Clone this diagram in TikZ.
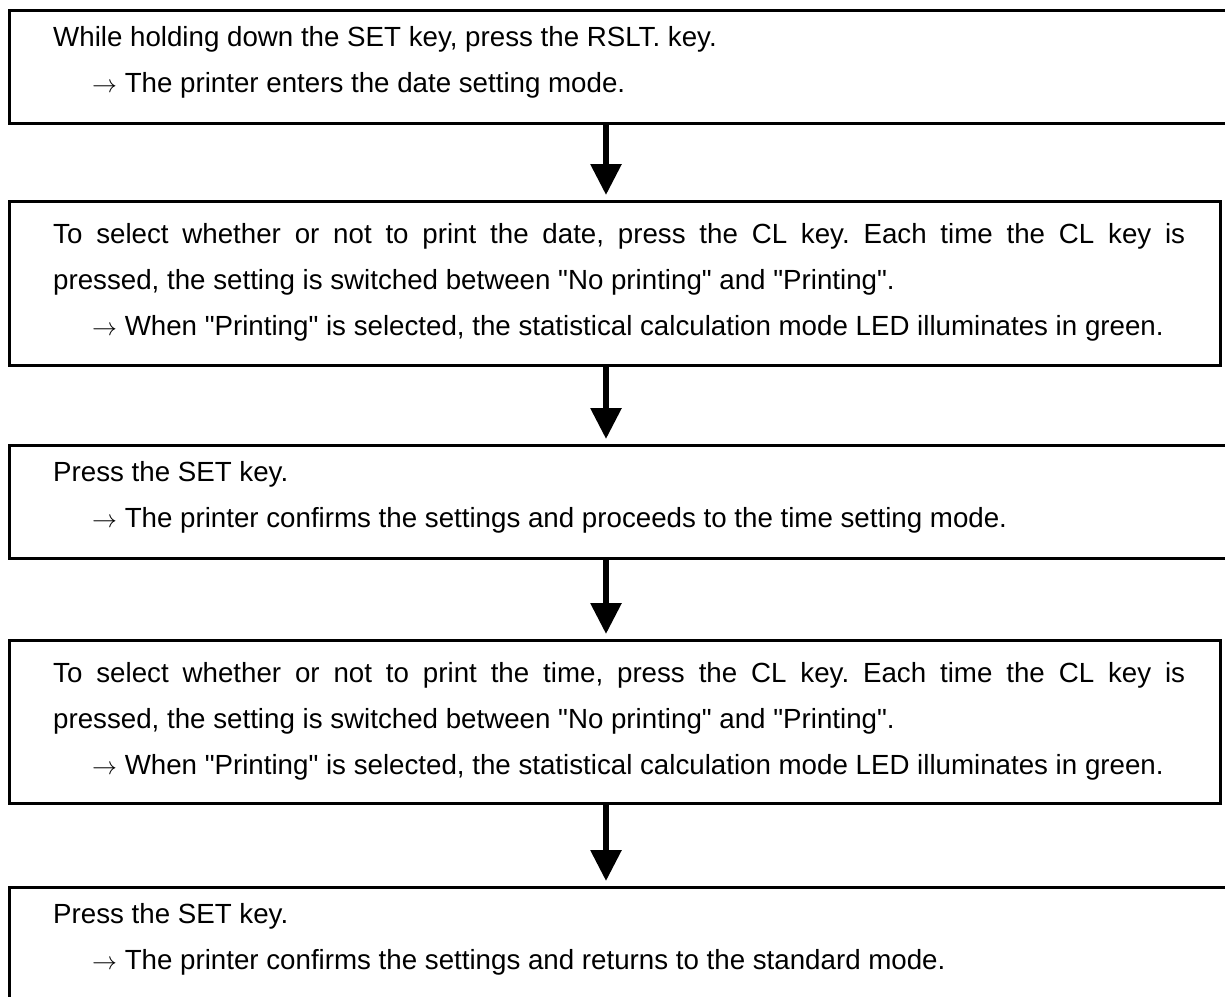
\documentclass[tikz,border=0pt]{standalone}
\usepackage{fontspec}
\setmainfont{Liberation Sans}[Ligatures=TeXOff]
\usetikzlibrary{arrows.meta}
\begin{document}
\frenchspacing
\begin{tikzpicture}[x=1pt,y=-1pt,
  box/.style={draw=black, line width=3pt, rectangle, inner sep=0pt, outer sep=0pt, anchor=north west},
  txt/.style={anchor=base west, inner sep=0pt, font=\fontsize{27.7pt}{46pt}\selectfont},
  flow/.style={line width=6pt, -{Triangle[width=30pt,length=31pt]}, shorten >=6pt}]
\clip (0,0) rectangle (1225,996);
\useasboundingbox (0,0) rectangle (1225,996);

% step boxes (some run past the right edge of the page)
\node[box, minimum width=1241pt, minimum height=113pt] (b1) at (9,10) {};
\node[box, minimum width=1211pt, minimum height=164pt] (b2) at (9,201) {};
\node[box, minimum width=1241pt, minimum height=113pt] (b3) at (9,445) {};
\node[box, minimum width=1211pt, minimum height=163pt] (b4) at (9,640) {};
\node[box, minimum width=1241pt, minimum height=113pt] (b5) at (9,887) {};

% step texts
\node[txt] (t1a) at (53,46) {While holding down the SET key, press the RSLT. key.};
\node[txt] (t1b) at (92,92) {$\rightarrow$ The printer enters the date setting mode.};

\node[txt] (t2a) at (53,243) {\makebox[1132pt][s]{To select whether or not to print the date, press the CL key. Each time the CL key is}};
\node[txt] (t2b) at (53,289) {pressed, the setting is switched between "No printing" and "Printing".};
\node[txt] (t2c) at (92,335) {$\rightarrow$ When "Printing" is selected, the statistical calculation mode LED illuminates in green.};

\node[txt] (t3a) at (53,481) {Press the SET key.};
\node[txt] (t3b) at (92,527) {$\rightarrow$ The printer confirms the settings and proceeds to the time setting mode.};

\node[txt] (t4a) at (53,682) {\makebox[1132pt][s]{To select whether or not to print the time, press the CL key. Each time the CL key is}};
\node[txt] (t4b) at (53,728) {pressed, the setting is switched between "No printing" and "Printing".};
\node[txt] (t4c) at (92,774) {$\rightarrow$ When "Printing" is selected, the statistical calculation mode LED illuminates in green.};

\node[txt] (t5a) at (53,923) {Press the SET key.};
\node[txt] (t5b) at (92,969) {$\rightarrow$ The printer confirms the settings and returns to the standard mode.};

% flow arrows
\coordinate (ax) at (606,0);
\draw[flow] (b1.south -| ax) -- (b2.north -| ax);
\draw[flow] (b2.south -| ax) -- (b3.north -| ax);
\draw[flow] (b3.south -| ax) -- (b4.north -| ax);
\draw[flow] (b4.south -| ax) -- (b5.north -| ax);
\end{tikzpicture}
\end{document}
